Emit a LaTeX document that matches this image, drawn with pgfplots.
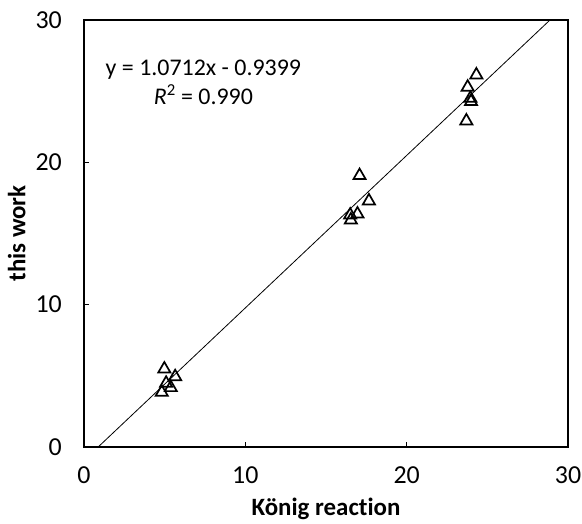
\documentclass[border=0pt]{standalone}
\usepackage{pgfplots}
\pgfplotsset{compat=1.18}
\usepackage{fontspec}
\setmainfont{Carlito}[Ligatures={NoCommon}]
\begin{document}
\fontsize{24}{28}\selectfont
\begin{tikzpicture}
\begin{axis}[
  name=ax,
  scale only axis,
  width=484bp, height=427bp,
  xmin=0, xmax=30, ymin=0, ymax=30,
  xtick={0,10,20,30}, ytick={0,10,20,30},
  tick align=inside,
  tick pos=left,
  major tick length=5bp,
  axis line style={line width=1.6bp},
  tick style={line width=0.8bp, black},
  /pgf/number format/assume math mode=true,
  ticklabel style={font=\fontsize{26}{30}\selectfont},
  xticklabel style={yshift=-12bp},
  yticklabel style={xshift=-14bp},
  xlabel={\textbf{König reaction}},
  ylabel={\textbf{this work}},
  label style={font=\fontsize{25}{30}\selectfont},
  xlabel style={yshift=2bp},
  ylabel style={yshift=-6bp},
  clip=true,
]
\addplot[only marks, mark=triangle, mark size=7bp, mark options={line width=1.7bp, fill=white}] coordinates {
 (4.98,5.48) (5.65,4.94) (5.09,4.48) (5.38,4.17) (4.82,3.84)
 (17.08,19.07) (17.66,17.29) (16.95,16.37) (16.50,16.30) (16.54,15.95)
 (24.32,26.14) (23.78,25.28) (23.95,24.50) (23.99,24.27) (23.70,22.91)
};
\addplot[black, line width=0.8bp, domain=0.8774:28.883, samples=2] {1.0712*x - 0.9399};
\node[anchor=center, align=center, font=\fontsize{24}{29}\selectfont] at (axis cs:7.4,25.6) {y = 1.0712x - 0.9399\\ \textit{R}\textsuperscript{2} = 0.990};
\end{axis}
\pgfresetboundingbox
\path[use as bounding box] ([shift={(-84bp,-77bp)}]ax.south west) rectangle ([shift={(14bp,20bp)}]ax.north east);
\end{tikzpicture}
\end{document}
